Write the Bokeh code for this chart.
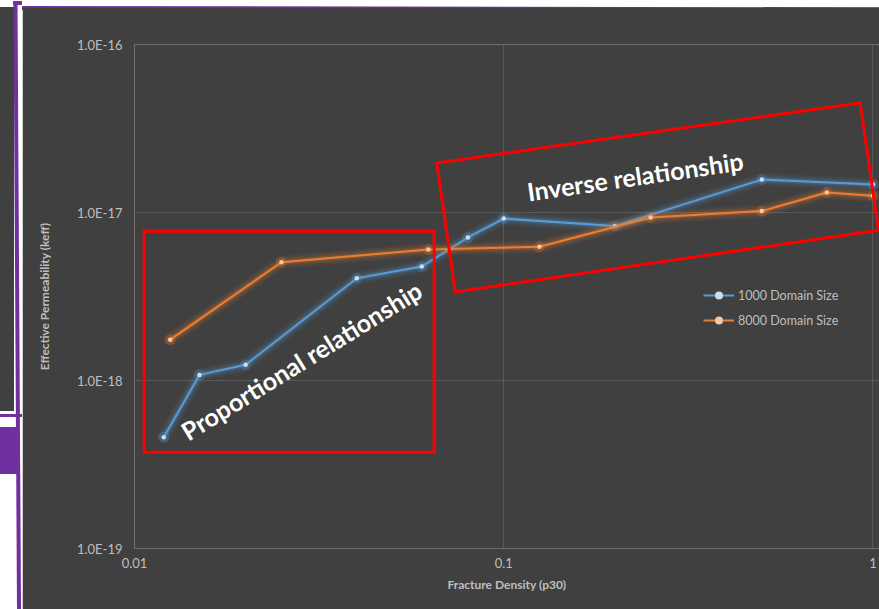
from bokeh.plotting import figure
from bokeh.models import (Range1d, FixedTicker, CustomJSTickFormatter, Legend,
                          LegendItem, Label, Div, ColumnDataSource)
from bokeh.layouts import row, column
from bokeh.embed import file_html
from bokeh.resources import INLINE

# ---------------- data ----------------
density_1000 = [0.012, 0.015, 0.02, 0.04, 0.06, 0.08, 0.1, 0.2, 0.5, 1.0]
keff_1000 = [4.6e-19, 1.08e-18, 1.24e-18, 4.06e-18, 4.77e-18, 7.1e-18,
             9.2e-18, 8.3e-18, 1.57e-17, 1.47e-17]
density_8000 = [0.0125, 0.025, 0.0625, 0.125, 0.25, 0.5, 0.75, 1.0]
keff_8000 = [1.75e-18, 5.06e-18, 6.02e-18, 6.25e-18, 9.33e-18, 1.02e-17,
             1.315e-17, 1.26e-17]
series_names = ["1000 Domain Size", "8000 Domain Size"]

x_ticks = [0.01, 0.1, 1.0]
x_tick_labels = ["0.01", "0.1", "1"]
y_ticks = [1e-19, 1e-18, 1e-17, 1e-16]
y_tick_labels = ["1.0E-19", "1.0E-18", "1.0E-17", "1.0E-16"]

x_title = "Fracture Density (p30)"
y_title = "Effective Permeability (keff)"
note_prop = "Proportional relationship"
note_inv = "Inverse relationship"

# ---------------- styling ----------------
BG = "#404040"
TXT = "#bfbfbf"
GRID = "#5a5a5a"
BLUE, BLUE_PT = "#5b9bd5", "#c9def3"
ORANGE, ORANGE_PT = "#ed7d31", "#f8c8a2"
PURPLE = "#7030a0"
FONT = "Lato"

p = figure(width=857, height=602, x_axis_type="log", y_axis_type="log",
           x_range=Range1d(0.01, 1.042), y_range=Range1d(1e-19, 1e-16),
           output_backend="svg", toolbar_location=None,
           background_fill_color=BG, border_fill_color=BG,
           min_border_left=112, min_border_right=0,
           min_border_top=37, min_border_bottom=61)
p.outline_line_color = None

fmt_code = """
let best = 0, d = Infinity;
for (let i = 0; i < vals.length; i++) {
  const e = Math.abs(Math.log10(vals[i]) - Math.log10(tick));
  if (e < d) { d = e; best = i; }
}
return labs[best];
"""
p.xaxis.ticker = FixedTicker(ticks=x_ticks)
p.yaxis.ticker = FixedTicker(ticks=y_ticks)
p.xaxis.formatter = CustomJSTickFormatter(args=dict(vals=x_ticks, labs=x_tick_labels), code=fmt_code)
p.yaxis.formatter = CustomJSTickFormatter(args=dict(vals=y_ticks, labs=y_tick_labels), code=fmt_code)
p.xgrid.ticker = FixedTicker(ticks=x_ticks)
p.ygrid.ticker = FixedTicker(ticks=y_ticks)
for g in (p.xgrid[0], p.ygrid[0]):
    g.grid_line_color = GRID
    g.grid_line_width = 1
    g.minor_grid_line_color = None

for ax in (p.xaxis[0], p.yaxis[0]):
    ax.axis_line_color = None
    ax.major_tick_line_color = None
    ax.minor_tick_line_color = None
    ax.major_tick_out = 0
    ax.major_tick_in = 0
    ax.major_label_text_color = TXT
    ax.major_label_text_font = FONT
    ax.major_label_text_font_size = "13px"
    ax.axis_label_text_color = TXT
    ax.axis_label_text_font = FONT
    ax.axis_label_text_font_style = "bold"
    ax.axis_label_text_font_size = "12px"
p.xaxis.axis_label = x_title
p.yaxis.axis_label = y_title
p.yaxis.major_label_standoff = 12
p.xaxis.major_label_standoff = 9
p.xaxis.axis_label_standoff = 6
p.yaxis.axis_label_standoff = 22

# ---------------- series with glow ----------------
legend_items = []
for name, xs, ys, col, ptcol in [(series_names[0], density_1000, keff_1000, BLUE, BLUE_PT),
                                  (series_names[1], density_8000, keff_8000, ORANGE, ORANGE_PT)]:
    src = ColumnDataSource(dict(x=xs, y=ys))
    for w, a in [(13, 0.07), (9, 0.11), (5, 0.2)]:
        p.line("x", "y", source=src, line_color=col, line_width=w, line_alpha=a,
               line_join="round", line_cap="round")
    p.scatter("x", "y", source=src, size=11, fill_color=col, fill_alpha=0.25, line_color=None)
    core = p.line("x", "y", source=src, line_color=col, line_width=2, line_join="round")
    pts = p.scatter("x", "y", source=src, size=4.5, fill_color=ptcol, line_color=None)
    legend_items.append(LegendItem(label=name, renderers=[core, pts]))

legend = Legend(items=legend_items, location=(569, 218), padding=0, margin=0,
                spacing=5, glyph_width=31, glyph_height=20, label_height=20,
                label_standoff=4, background_fill_alpha=0, border_line_color=None,
                label_text_color=TXT, label_text_font=FONT, label_text_font_size="12.5px")
p.add_layout(legend)

# ---------------- red callout boxes (annotation positions in data space) ----------------
box1_x = [0.01062, 0.06481, 0.06481, 0.01062]
box1_y = [7.74e-18, 7.74e-18, 3.742e-19, 3.742e-19]
box2_x = [0.06592, 0.9239, 1.0356, 0.07388]
box2_y = [1.973e-17, 4.491e-17, 7.845e-18, 3.369e-18]
for bx, by in [(box1_x, box1_y), (box2_x, box2_y)]:
    p.patch(bx, by, fill_color=None, line_color="#ff0000", line_width=3, line_join="miter")

p.add_layout(Label(x=0.01355, y=4.86e-19, text=note_prop, angle=0.553, angle_units="rad",
                   text_font=FONT, text_font_style="bold", text_font_size="25px",
                   text_color="white", text_align="left", text_baseline="alphabetic"))
p.add_layout(Label(x=0.1158, y=1.33e-17, text=note_inv, angle=0.145, angle_units="rad",
                   text_font=FONT, text_font_style="bold", text_font_size="25px",
                   text_color="white", text_align="left", text_baseline="alphabetic"))

# ---------------- page frame decoration ----------------
left_svg = (
    '<svg width="22" height="609" style="display:block" xmlns="http://www.w3.org/2000/svg">'
    '<rect x="0" y="0" width="22" height="609" fill="white"/>'
    f'<rect x="0" y="7" width="14" height="404" fill="{BG}"/>'
    f'<rect x="13" y="1" width="9" height="4" fill="{PURPLE}"/>'
    f'<polygon points="13.5,1 17.5,1 21,609 17,609" fill="{PURPLE}"/>'
    f'<rect x="0" y="414" width="22" height="3" fill="{PURPLE}"/>'
    f'<rect x="0" y="427" width="17" height="47" fill="{PURPLE}"/>'
    '</svg>')
top_svg = (
    '<svg width="857" height="7" style="display:block" xmlns="http://www.w3.org/2000/svg">'
    '<rect x="0" y="0" width="857" height="7" fill="white"/>'
    f'<polygon points="0,1 857,2.3 857,6.5 0,5" fill="{PURPLE}"/>'
    '</svg>')
left = Div(text=left_svg, width=22, height=609, margin=0)
top = Div(text=top_svg, width=857, height=7, margin=0)

layout = row(left, column(top, p, spacing=0, margin=0), spacing=0, margin=0)

open("out.html", "w").write(file_html(layout, INLINE))
